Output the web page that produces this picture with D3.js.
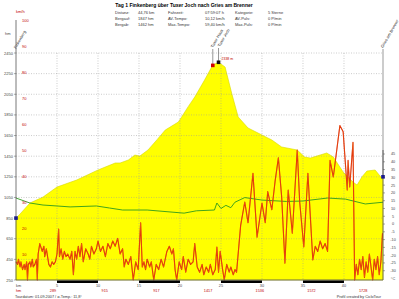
<!DOCTYPE html>
<html>
<head>
<meta charset="utf-8">
<script src="https://cdn.jsdelivr.net/npm/d3@7"></script>
<style>
  body { margin: 0; background: #fff; }
  svg { font-family: "Liberation Sans", Arial, sans-serif; }
</style>
</head>
<body>
<div id="chart"></div>
<script>
// Höhenprofil
let elevKm = [0, 0.5, 1.7, 3.3, 5, 7.4, 10, 12.1, 12.7, 13.7, 14.5, 15.1, 16.1, 17.2, 18.2, 19.8, 20.2, 21.0, 21.8, 23, 24, 24.7, 25.5, 26.3, 27.1, 28.3, 30, 31.2, 32.4, 34.3, 35.2, 35.9, 37.9, 38.7, 39.9, 41.1, 41.6, 42.2, 42.8, 43.8, 44.6, 44.76]
let elevM = [850, 890, 996, 1054, 1151, 1219, 1316, 1384, 1384, 1413, 1461, 1451, 1510, 1610, 1703, 1781, 1830, 1930, 2023, 2188, 2333, 2360, 2314, 2062, 1830, 1723, 1655, 1607, 1539, 1510, 1442, 1432, 1481, 1442, 1297, 1200, 1170, 1250, 1306, 1316, 1238, 1250]

// Temperatur
let tempKm = [0, 1.7, 3.3, 5, 6.6, 9.8, 11.4, 13, 16, 20.5, 22, 24.2, 24.5, 25, 25.6, 26.2, 26.7, 27.9, 30, 33, 35, 38, 40.2, 42.6, 44.76]
let tempC = [16.7, 13.5, 12.2, 11.6, 11, 11.6, 10.3, 9, 9, 7, 8.5, 9, 13.5, 10, 12, 10.5, 14, 17, 15.4, 14.5, 14.8, 16.7, 16, 12.9, 14]

// Geschwindigkeit
let speedKm = [0, 0.2, 0.3, 0.5, 0.6, 0.8, 1.0, 1.1, 1.3, 1.4, 1.5, 1.7, 1.8, 2.0, 2.1, 2.3, 2.5, 2.6, 2.7, 2.9, 3.0, 3.2, 3.4, 3.5, 3.7, 3.9, 4.0, 4.2, 4.4, 4.6, 4.8, 5.0, 5.2, 5.3, 5.5, 5.7, 5.9, 6.1, 6.3, 6.6, 6.8, 7.0, 7.2, 7.4, 7.6, 7.8, 8.0, 8.2, 8.5, 8.8, 9.0, 9.2, 9.5, 9.8, 10.0, 10.3, 10.6, 10.9, 11.2, 11.5, 11.8, 12.1, 12.4, 12.7, 13.0, 13.2, 13.4, 13.7, 14.0, 14.3, 14.6, 14.9, 15.2, 15.4, 15.6, 15.8, 16.0, 16.3, 16.5, 16.8, 17.1, 17.4, 17.7, 18.0, 18.4, 18.7, 19.0, 19.2, 19.4, 19.6, 19.9, 20.2, 20.4, 20.7, 21.0, 21.3, 21.6, 21.8, 22.1, 22.4, 22.7, 22.9, 23.2, 23.5, 23.7, 24.0, 24.3, 24.5, 24.7, 24.9, 25.2, 25.4, 25.7, 26.0, 26.2, 26.5, 26.7, 26.9, 27.4, 27.9, 28.3, 28.9, 29.4, 30.0, 30.4, 30.7, 31.2, 31.6, 32.0, 32.4, 32.8, 33.2, 33.7, 34.3, 34.6, 35.1, 35.6, 36.2, 36.5, 36.8, 37.1, 37.4, 37.7, 38.0, 38.3, 38.7, 39.5, 39.9, 40.4, 40.5, 40.7, 41.1, 41.3, 41.5, 41.7, 41.9, 42.1, 42.3, 42.5, 42.7, 42.9, 43.1, 43.3, 43.5, 43.7, 43.9, 44.1, 44.3, 44.5, 44.7]
let speedKmh = [7, 6, 8, 5, 7, 4, 6, 4, 7, 0, 6, 7, 5, 8, 5, 6, 8, 0, 10, 14, 13, 11, 13, 9, 12, 8, 6, 5, 7, 6, 7, 10, 19.6, 9, 12, 8, 11, 9, 10, 8, 11, 2, 11, 8, 13, 9, 14, 7, 12, 10, 8, 13, 10, 12, 15, 11, 13, 9, 14, 12, 15, 13, 16, 10, 12, 5, 8, 6, 9, 0, 7, 4, 22, 5, 7, 4, 8, 5, 7, 0, 6, 4, 8, 5, 11, 13, 10, 12, 4, 0, 7, 4, 9, 3, 8, 6, 7, 14, 5, 3, 6, 2, 5, 3, 6, 2, 4, 12.7, 3, 11, 4, 0, 6, 3, 5, 2, 4, 3, 21, 30, 22, 41, 16.5, 29.6, 22, 34, 27, 38, 47, 32, 6.5, 34.6, 18, 50, 30, 12.7, 41, 7.7, 13, 11, 15, 12, 14, 11, 46, 39.6, 59.4, 57, 34.6, 46, 35.8, 53, 0, 6, 2, 8, 4, 9, 1, 7, 3, 10, 5, 0, 8, 4, 9, 2, 7, 18, 16.5]

// Achsen-Beschriftungen
let kmTicks = [0, 5, 10, 15, 20, 25, 30, 35, 40]
let hmRowLabels = ["289", "915", "917", "1417", "1536", "1572", "1728"]
let elevTicks = [250, 450, 650, 850, 1050, 1250, 1450, 1650, 1850, 2050, 2250, 2450]
let speedTicks = [10, 20, 30, 40, 50, 60, 70, 80, 90, 100]
let tempTicks = [45, 40, 35, 30, 25, 20, 15, 10, 5, 0, -5, -10, -15, -20, -25, -30]

// Orte
let placeNames = ["Finkenberg", "Tuxer Haus", "Tuxer Joch", "Gries am Brenner"]
let placeKm = [0, 24.0, 24.7, 44.76]
let placeElev = [850, 2330, 2360, 1250]

let infoRows = [
    ["Distanz:", "44,76 km", "Fahrzeit:", "07:59:07 h", "Kategorie:", "5 Sterne"],
    ["Bergauf:", "1847 hm", "AV-Tempo:", "10,12 km/h", "AV-Puls:", "0 P/min"],
    ["Bergab:", "1462 hm", "Max-Tempo:", "59,40 km/h", "Max-Puls:", "0 P/min"]
]

let W = 399, H = 299
let pLeft = 16, pRight = 383, pTop = 53, pBottom = 280

var svg = d3.select("#chart")
    .append("svg")
        .attr("width", W)
        .attr("height", H)

let x = d3.scaleLinear().domain([0, 44.76]).range([pLeft, pRight])
let yElev = d3.scaleLinear().domain([250, 2450]).range([pBottom, pTop])
let ySpeed = d3.scaleLinear().domain([0, 100]).range([pBottom, 20])
let yTemp = d3.scaleLinear().domain([-35, 45]).range([278.5, 154])

// Titel + Tabelle
svg.append("text")
    .attr("x", 184).attr("y", 7)
    .attr("text-anchor", "middle")
    .style("font-size", "5px").style("font-weight", "bold")
    .text("Tag 1 Finkenberg über Tuxer Joch nach Gries am Brenner")

let colX = [115, 138, 168, 205, 235, 268]
infoRows.forEach((row, i) => {
    row.forEach((t, j) => {
        svg.append("text")
            .attr("x", colX[j]).attr("y", 13.5 + i * 6)
            .style("font-size", "4px").attr("fill", "#333")
            .text(t)
    })
})

// Höhenfläche
let elevData = elevKm.map((k, i) => ({k: k, e: elevM[i]}))
svg.append("path")
    .datum(elevData)
    .attr("fill", "#ffff00")
    .attr("stroke", "#d8d800")
    .attr("stroke-width", 0.6)
    .attr("d", d3.area().x(d => x(d.k)).y0(pBottom).y1(d => yElev(d.e)))

// Gitter
svg.append("g").selectAll("line")
    .data(elevTicks.slice(1))
    .join("line")
        .attr("x1", pLeft).attr("x2", pRight)
        .attr("y1", d => yElev(d)).attr("y2", d => yElev(d))
        .attr("stroke", "#999").attr("stroke-width", 0.5)
        .attr("stroke-dasharray", "1,1.5")

svg.append("g").selectAll("line")
    .data(kmTicks.slice(1))
    .join("line")
        .attr("x1", d => x(d)).attr("x2", d => x(d))
        .attr("y1", pTop).attr("y2", pBottom)
        .attr("stroke", "#999").attr("stroke-width", 0.5)
        .attr("stroke-dasharray", "1,1.5")

// Temperatur
let tempData = tempKm.map((k, i) => ({k: k, t: tempC[i]}))
svg.append("path")
    .datum(tempData)
    .attr("fill", "none")
    .attr("stroke", "#2e9a1e")
    .attr("stroke-width", 0.9)
    .attr("d", d3.line().x(d => x(d.k)).y(d => yTemp(d.t)))

// Geschwindigkeit
let speedData = speedKm.map((k, i) => ({k: k, v: speedKmh[i]}))
let speedLine = d3.line().x(d => x(d.k)).y(d => ySpeed(d.v))
svg.append("path")
    .datum(speedData)
    .attr("fill", "none").attr("stroke", "#dd1100").attr("stroke-width", 1.1)
    .attr("stroke-linejoin", "round")
    .attr("d", speedLine)
svg.append("path")
    .datum(speedData)
    .attr("fill", "none").attr("stroke", "#f08a20").attr("stroke-width", 0.4)
    .attr("stroke-linejoin", "round")
    .attr("d", speedLine)

// linke Achse
svg.append("line")
    .attr("x1", pLeft).attr("x2", pLeft).attr("y1", 20).attr("y2", pBottom)
    .attr("stroke", "#555").attr("stroke-width", 0.8)

let yAxisG = svg.append("g")
yAxisG.selectAll("text")
    .data(elevTicks)
    .join("text")
        .attr("x", 13).attr("y", d => yElev(d) + 1.5)
        .attr("text-anchor", "end")
        .style("font-size", "4px").attr("fill", "#444")
        .text(d => d)
yAxisG.selectAll("line")
    .data(elevTicks)
    .join("line")
        .attr("x1", pLeft - 2).attr("x2", pLeft)
        .attr("y1", d => yElev(d)).attr("y2", d => yElev(d))
        .attr("stroke", "#555").attr("stroke-width", 0.5)
svg.append("text").attr("x", 5).attr("y", 34.5)
    .style("font-size", "4px").attr("fill", "#444").text("hm")

svg.append("g").selectAll("text")
    .data(speedTicks)
    .join("text")
        .attr("x", 22).attr("y", d => ySpeed(d) + 1.5)
        .style("font-size", "4px").attr("fill", "#c00000")
        .text(d => d)
svg.append("text").attr("x", 16).attr("y", 13)
    .style("font-size", "4px").attr("fill", "#c00000").text("km/h")

// rechte Achse
svg.append("line")
    .attr("x1", pRight).attr("x2", pRight).attr("y1", 150).attr("y2", pBottom)
    .attr("stroke", "#555").attr("stroke-width", 0.8)
let tAxis = svg.append("g")
tAxis.selectAll("line")
    .data(tempTicks)
    .join("line")
        .attr("x1", pRight).attr("x2", pRight + 2)
        .attr("y1", d => yTemp(d)).attr("y2", d => yTemp(d))
        .attr("stroke", "#555").attr("stroke-width", 0.5)
tAxis.selectAll("text")
    .data(tempTicks)
    .join("text")
        .attr("x", 393).attr("y", d => yTemp(d) + 1.4)
        .attr("text-anchor", "middle")
        .style("font-size", "3.8px").attr("fill", "#444")
        .text(d => d)
svg.append("text").attr("x", 393).attr("y", yTemp(-35) + 1.4)
    .attr("text-anchor", "middle")
    .style("font-size", "3.8px").attr("fill", "#444").text("°C")

// x-Achse
svg.append("line")
    .attr("x1", pLeft).attr("x2", pRight).attr("y1", pBottom).attr("y2", pBottom)
    .attr("stroke", "#555").attr("stroke-width", 0.8)
svg.append("g").selectAll("rect")
    .data([5, 15, 25, 35])
    .join("rect")
        .attr("x", d => x(d)).attr("y", pBottom + 0.5)
        .attr("width", d => x(d + 5) - x(d)).attr("height", 2.5)
        .attr("fill", "#000")
svg.append("g").selectAll("text")
    .data(kmTicks)
    .join("text")
        .attr("x", d => x(d)).attr("y", 287)
        .attr("text-anchor", d => d == 0 ? "start" : "middle")
        .style("font-size", "3.8px").attr("fill", "#444")
        .text(d => d == 0 ? "km" : d)
svg.append("text").attr("x", pLeft).attr("y", 292)
    .style("font-size", "3.8px").attr("fill", "#c00000").text("hm")
svg.append("g").selectAll("text")
    .data(hmRowLabels)
    .join("text")
        .attr("x", (d, i) => 53 + i * 51.7).attr("y", 292)
        .attr("text-anchor", "middle")
        .style("font-size", "3.8px").attr("fill", "#c00000")
        .text(d => d)

// Orte
let rotAt = [[16, 49], [213, 48], [220, 47], [383, 48]]
placeNames.forEach((name, i) => {
    let px = x(placeKm[i]), py = yElev(placeElev[i])
    if (i > 0) {
        svg.append("line")
            .attr("x1", px).attr("x2", px).attr("y1", rotAt[i][1] + 1).attr("y2", py)
            .attr("stroke", "#333").attr("stroke-width", 0.5)
    }
    svg.append("text")
        .attr("transform", `translate(${rotAt[i][0]},${rotAt[i][1]}) rotate(-60)`)
        .style("font-size", "4px").attr("fill", "#222")
        .text(name)
    let col = i == 0 || i == 3 ? "#1a1a8c" : (i == 1 ? "#d00000" : "#111")
    svg.append("rect")
        .attr("x", px - 1.8).attr("y", py - 1.8)
        .attr("width", 3.6).attr("height", 3.6)
        .attr("fill", col)
})
svg.append("text")
    .attr("x", x(24.7) + 3).attr("y", yElev(2360) - 2)
    .style("font-size", "3.5px").attr("fill", "#c00000")
    .text("2338 m")

// Fußzeile
svg.append("text").attr("x", 15).attr("y", 297.5)
    .style("font-size", "3.8px").attr("fill", "#333")
    .text("Tourdatum: 01.09.2007 / ø-Temp.: 11,8°")
svg.append("text").attr("x", 381).attr("y", 297.5)
    .attr("text-anchor", "end")
    .style("font-size", "3.8px").attr("fill", "#333")
    .text("Profil created by CicloTour")
</script>
</body>
</html>
